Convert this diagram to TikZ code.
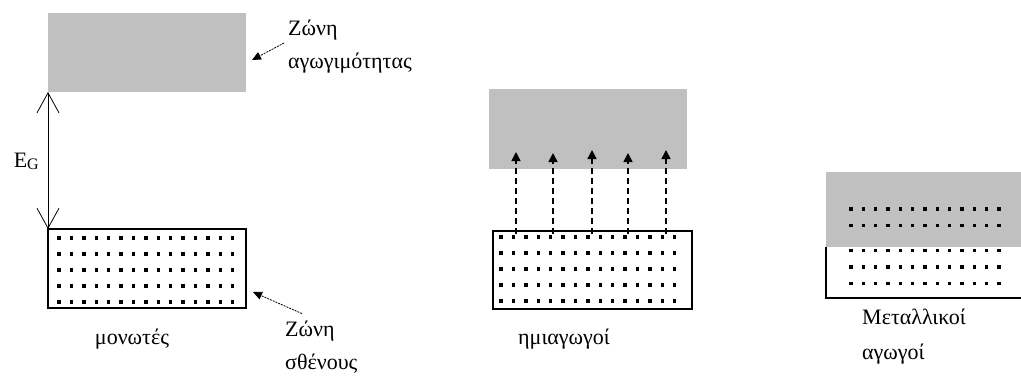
\documentclass[tikz,border=0pt]{standalone}
\usepackage{fontspec}
\setmainfont{Liberation Serif}
\usepackage{xcolor}
\usepackage{tikz}
\usetikzlibrary{arrows.meta,positioning}
\definecolor{bandgray}{RGB}{192,192,192}

\begin{document}
\begin{tikzpicture}[x=1pt,y=-1pt,
  band/.style={fill=bandgray,inner sep=0,outer sep=0},
  vbox/.style={draw=black,line width=1.3pt,inner sep=0,outer sep=0},
  lbl/.style={font=\fontsize{22}{33}\selectfont,inner sep=0,align=left},
  pointer/.style={line width=0.8pt,dash pattern=on 2pt off 1pt,
    -{Triangle[length=9pt,width=8pt]}},
  jump/.style={line width=1.5pt,dash pattern=on 6pt off 4pt,
    -{Triangle[length=9pt,width=9pt]}},
  barb/.style={line width=0.8pt,
    {Straight Barb[length=20pt,width=22pt]}-{Straight Barb[length=20pt,width=22pt]}}]
  \useasboundingbox (0,0) rectangle (1021,378);
  % insulator
  \node[band,minimum width=198pt,minimum height=79pt] (cb1) at (147,52.5) {};
  \node[vbox,minimum width=198pt,minimum height=79pt] (vb1) at (147,268.5) {};
  \foreach \r in {0,...,4}
  \foreach \c in {0,...,14}
  \fill ({59+12.4*\c},{238+16*\r}) +(-1.7,-1.7) rectangle +(1.7,1.7);
  \draw[barb] (cb1.south west) -- (vb1.north west);
  \node[lbl,anchor=east] (eg) at (39,161)
  {E\raisebox{-2pt}{\fontsize{16}{16}\selectfont G}};
  \node[lbl,anchor=west] (lblcb) at (288,47) {Ζώνη\\αγωγιμότητας};
  \draw[pointer] ([shift={(-4,-4)}]lblcb.west) -- ([shift={(6,7.5)}]cb1.east);
  %dashed pointer to the conduction band
  \node[lbl,anchor=west] (lblvb) at (285,347) {Ζώνη\\σθένους};
  \draw[pointer] ([shift={(17,-7)}]lblvb.north west) -- ([shift={(7,23.5)}]vb1.east);
  %pointer to the valence band
  \node[lbl,anchor=base] (ins) at (132,344) {μονωτές};
  % semiconductor
  \node[band,minimum width=198pt,minimum height=80pt] (cb2) at (588,129) {};
  \node[vbox,minimum width=199pt,minimum height=78pt] (vb2) at (592.5,270) {};
  \foreach \r in {0,...,4}
  \foreach \c in {0,...,14}
  \fill ({501+12.4*\c},{237+16*\r}) +(-1.7,-1.7) rectangle +(1.7,1.7);
  \foreach \x/\t in {516/152,553/153,592/150,628/153,666/150}
  \draw[jump] (\x,234) -- (\x,\t);
  \node[lbl,anchor=base west] (semi) at (518,344) {ημιαγωγοί};
  % metal
  \node[band,minimum width=195pt,minimum height=75pt] (cb3) at (923.5,209.5) {};
  \draw[line width=1.3pt] (cb3.south west) |- (1021,298);
  \foreach \y in {209,225.5,250.5,267,283.5}
  \foreach \c in {0,...,12}
  \fill ({851+12.33*\c},\y) +(-1.7,-1.7) rectangle +(1.7,1.7);
  \node[lbl,anchor=west,font=\fontsize{22}{35}\selectfont] (met) at (862,337)
  {Μεταλλικοί\\αγωγοί};
\end{tikzpicture}
\end{document}
